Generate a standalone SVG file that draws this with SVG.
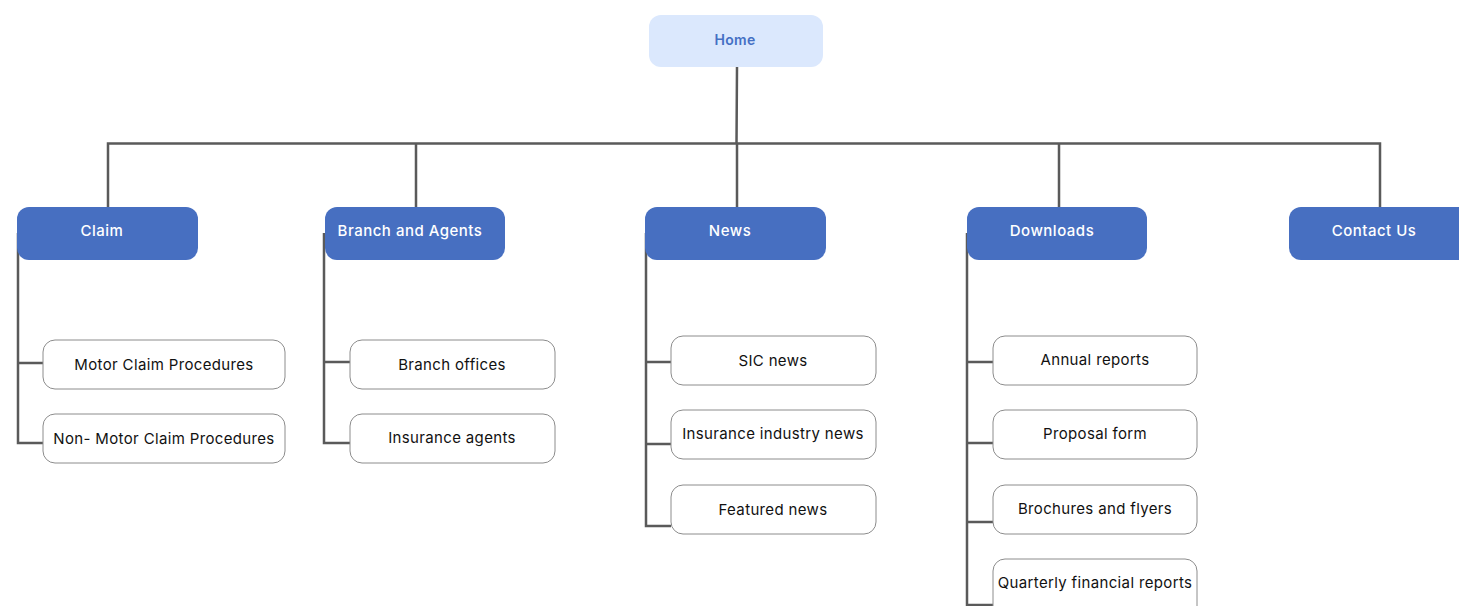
<svg xmlns="http://www.w3.org/2000/svg" width="1459" height="606" viewBox="0 0 1459 606">
<style>
.bg{fill:#ffffff}
.conn{fill:none;stroke:#5a5a5a;stroke-width:2.5}
.home rect{fill:#dbe8fd}
.home text{fill:#4470c4;font-family:Inter,"Open Sans",sans-serif;font-size:14px;font-weight:600;letter-spacing:0.3px;text-anchor:middle;dominant-baseline:central}
.l1 rect{fill:#476fc1}
.l1 text{fill:#ffffff;font-family:Inter,"Open Sans",sans-serif;font-size:15px;font-weight:500;letter-spacing:0.5px;text-anchor:middle;dominant-baseline:central}
.l2 rect{fill:#ffffff;stroke:#8c8c8c;stroke-width:1}
.l2 text{fill:#111111;font-family:Inter,"Open Sans",sans-serif;font-size:15px;letter-spacing:0.35px;text-anchor:middle;dominant-baseline:central}
</style>
<rect class="bg" x="0" y="0" width="1459" height="606"/>
<g id="connectors">
<path class="conn" d="M737 67 L736.5 143.5 M108 207 V143.5 H1380 V207 M416 143.5 V207 M737 143.5 V207 M1059 143.5 V207"/>
<path class="conn" d="M18 233 V443 H43 M18 363 H43"/>
<path class="conn" d="M324 233 V443 H350 M324 362 H350"/>
<path class="conn" d="M646 233 V526 H671 M646 362 H671 M646 444 H671"/>
<path class="conn" d="M967 233 V605 H993 M967 362 H993 M967 443 H993 M967 522 H993"/>
</g>
<g id="home" class="home"><rect x="649" y="15" width="174" height="52" rx="12"/><text x="735" y="39.5">Home</text></g>
<g id="claim" class="l1"><rect x="17" y="207" width="181" height="53" rx="12"/><text x="102" y="230">Claim</text></g>
<g id="branch" class="l1"><rect x="325" y="207" width="180" height="53" rx="12"/><text x="410" y="230">Branch and Agents</text></g>
<g id="news" class="l1"><rect x="645" y="207" width="181" height="53" rx="12"/><text x="730" y="230">News</text></g>
<g id="downloads" class="l1"><rect x="967" y="207" width="180" height="53" rx="12"/><text x="1052" y="230">Downloads</text></g>
<g id="contact" class="l1"><rect x="1289" y="207" width="190" height="53" rx="12"/><text x="1374" y="230">Contact Us</text></g>
<g id="motor" class="l2"><rect x="43" y="340" width="242" height="49" rx="12"/><text x="164" y="364">Motor Claim Procedures</text></g>
<g id="nonmotor" class="l2"><rect x="43" y="414" width="242" height="49" rx="12"/><text x="164" y="438">Non- Motor Claim Procedures</text></g>
<g id="branchoffices" class="l2"><rect x="350" y="340" width="205" height="49" rx="12"/><text x="452" y="364">Branch offices</text></g>
<g id="agents" class="l2"><rect x="350" y="414" width="205" height="49" rx="12"/><text x="452" y="437">Insurance agents</text></g>
<g id="sicnews" class="l2"><rect x="671" y="336" width="205" height="49" rx="12"/><text x="773" y="360">SIC news</text></g>
<g id="industrynews" class="l2"><rect x="671" y="410" width="205" height="49" rx="12"/><text x="773" y="433">Insurance industry news</text></g>
<g id="featured" class="l2"><rect x="671" y="485" width="205" height="49" rx="12"/><text x="773" y="509">Featured news</text></g>
<g id="annual" class="l2"><rect x="993" y="336" width="204" height="49" rx="12"/><text x="1095" y="359">Annual reports</text></g>
<g id="proposal" class="l2"><rect x="993" y="410" width="204" height="49" rx="12"/><text x="1095" y="433">Proposal form</text></g>
<g id="brochures" class="l2"><rect x="993" y="485" width="204" height="49" rx="12"/><text x="1095" y="508">Brochures and flyers</text></g>
<g id="quarterly" class="l2"><rect x="993" y="559" width="204" height="60" rx="12"/><text x="1095" y="582">Quarterly financial reports</text></g>
</svg>
